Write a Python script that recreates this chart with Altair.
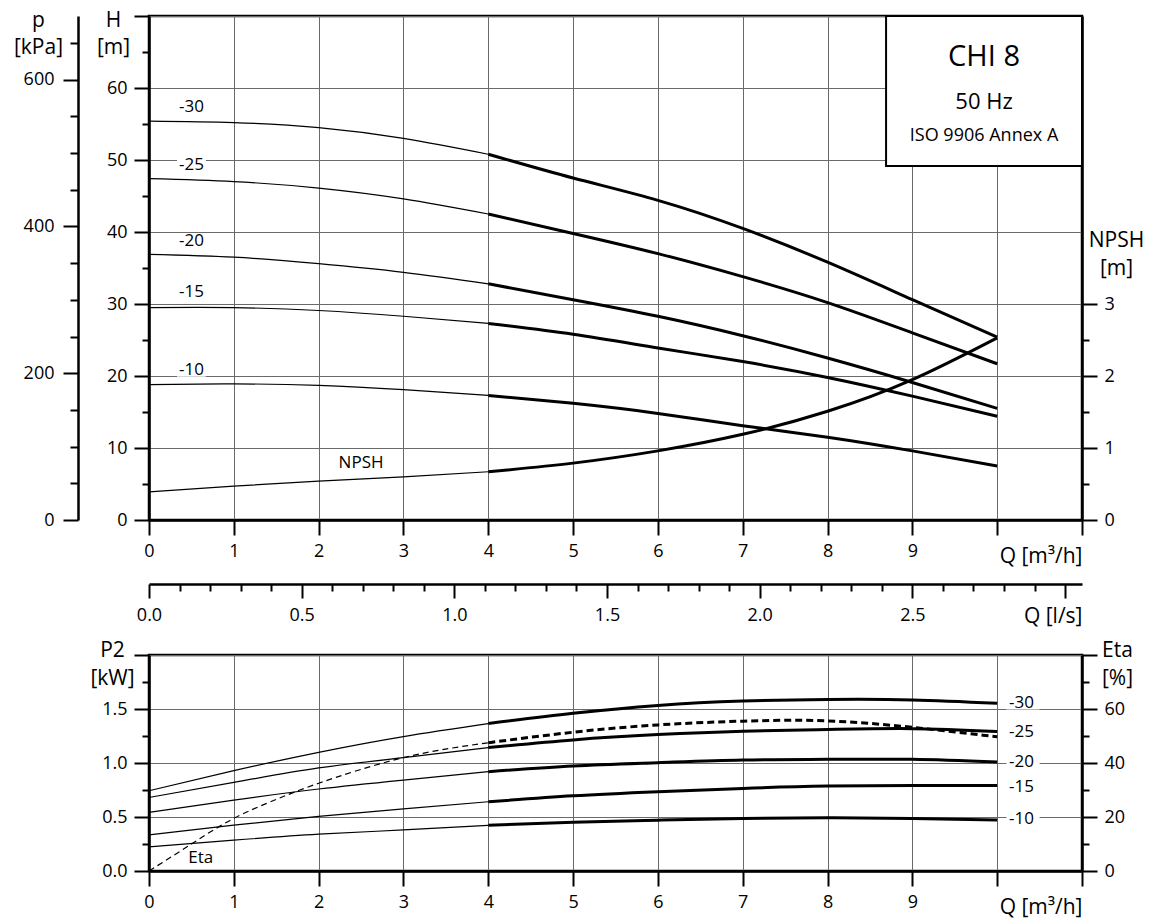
import altair as alt
import pandas as pd

# ---------------- data ----------------
Q = [0, 1, 2, 3, 4, 5, 6, 7, 8, 9, 10]                 # flow, m3/h
STAGES = ["-30", "-25", "-20", "-15", "-10"]

H_30 = [55.4, 55.2, 54.5, 53.0, 50.8, 47.5, 44.4, 40.5, 35.8, 30.6, 25.4]
H_25 = [47.4, 47.0, 46.1, 44.6, 42.5, 39.8, 37.0, 33.8, 30.2, 26.0, 21.7]
H_20 = [36.9, 36.5, 35.6, 34.4, 32.8, 30.6, 28.3, 25.6, 22.5, 19.1, 15.5]
H_15 = [29.5, 29.5, 29.1, 28.3, 27.3, 25.8, 23.9, 22.0, 19.8, 17.2, 14.4]
H_10 = [18.8, 18.9, 18.7, 18.1, 17.3, 16.2, 14.8, 13.1, 11.5, 9.6, 7.5]
NPSH = [0.39, 0.47, 0.54, 0.60, 0.67, 0.79, 0.96, 1.19, 1.51, 1.95, 2.53]

P2_30 = [0.743, 0.929, 1.099, 1.245, 1.365, 1.460, 1.533, 1.573, 1.588, 1.584, 1.553]
P2_25 = [0.681, 0.820, 0.954, 1.050, 1.143, 1.214, 1.263, 1.294, 1.310, 1.318, 1.292]
P2_20 = [0.542, 0.656, 0.759, 0.842, 0.920, 0.972, 1.003, 1.028, 1.034, 1.034, 1.009]
P2_15 = [0.334, 0.424, 0.505, 0.576, 0.641, 0.696, 0.734, 0.765, 0.786, 0.792, 0.792]
P2_10 = [0.223, 0.285, 0.341, 0.380, 0.423, 0.452, 0.471, 0.486, 0.492, 0.487, 0.472]

ETA_Q = [0, 0.5, 1, 1.5, 2, 3, 4, 5, 6, 7, 8, 9, 10]
ETA = [0, 10.0, 19.5, 26.5, 32.5, 42.0, 47.5, 51.4, 54.1, 55.5, 55.6, 53.2, 49.7]

# curve-label anchors
H_LABEL_Q = [0.5, 0.5, 0.5, 0.5, 0.5]
H_LABEL_H = [57.3, 49.3, 38.8, 31.7, 20.8]
P2_LABEL_Q = [10.14, 10.14, 10.14, 10.14, 10.14]
P2_LABEL_P = [1.555, 1.283, 1.005, 0.782, 0.48]

# axis tick values
Q_TICKS = [i * 0.5 for i in range(23)]
H_TICKS = list(range(0, 75, 5))
NPSH_TICKS = [0, 0.5, 1, 1.5, 2, 2.5, 3]
P_TICKS = list(range(0, 700, 50))
LS_TICKS = [i / 10 for i in range(31)]
P2_TICKS = [i * 0.25 for i in range(9)]
ETA_TICKS = list(range(0, 90, 10))

BOX_TEXT = ["CHI 8", "50 Hz", "ISO 9906 Annex A"]

FONT = "Open Sans"
BLACK = "black"
INTERP = "natural"


def cond(test, a, b):
    return {"condition": {"test": test, "value": a}, "value": b}


def long(values, qs, name):
    rows = []
    for st, vals in zip(STAGES, values):
        for q, v in zip(qs, vals):
            rows.append({"stage": st, "Q": q, name: v})
    return pd.DataFrame(rows)


# ---------------- scales / axes ----------------
xs = alt.Scale(domain=[0, 11], nice=False, zero=False)
hs = alt.Scale(domain=[0, 70], nice=False)
ns = alt.Scale(domain=[0, 7], nice=False)
ps = alt.Scale(domain=[0, 70 * 9.81], nice=False)
lss = alt.Scale(domain=[0, 11 / 3.6], nice=False)
p2s = alt.Scale(domain=[0, 2], nice=False)
es = alt.Scale(domain=[0, 80], nice=False)


def q_axis():
    return alt.Axis(
        values=Q_TICKS, format="d",
        labelExpr="(datum.value % 1 == 0 && datum.value <= 9) ? datum.label : ''",
        tickSize=cond("datum.value % 1 == 0", 15, 7),
        grid=True, gridOpacity=cond("datum.value % 1 == 0", 1, 0),
        labelPadding=7, labelFlush=False, labelOverlap=False,
        title="Q [m³/h]", titleX=933, titleY=36, titleAlign="right",
        titleBaseline="middle", titleAngle=0,
    )


HAX = alt.Axis(
    values=H_TICKS, format="d",
    labelExpr="(datum.value % 10 == 0 && datum.value < 70) ? datum.label : ''",
    tickSize=cond("datum.value % 10 == 0", 15, 7),
    grid=True, gridOpacity=cond("datum.value % 10 == 0", 1, 0),
    labelPadding=7, labelOverlap=False, labelFlush=False,
    title=["H", "[m]"], titleX=-36, titleY=10, titleAngle=0, titleAlign="center",
    titleBaseline="alphabetic", titleLineHeight=27,
)
QAX = q_axis()

NAX = alt.Axis(
    orient="right", values=NPSH_TICKS, format="d",
    labelExpr="datum.value % 1 == 0 ? datum.label : ''",
    tickSize=cond("datum.value % 1 == 0", 15, 7),
    grid=False, labelPadding=7, labelOverlap=False, labelFlush=False,
    title=["NPSH", "[m]"], titleX=34, titleY=230, titleAngle=0, titleAlign="center",
    titleBaseline="alphabetic", titleLineHeight=28, titleFontSize=21,
)

PAX = alt.Axis(
    orient="left", offset=71, values=P_TICKS, format="d",
    labelExpr="datum.value % 200 == 0 ? datum.label : ''",
    tickSize=cond("datum.value % 200 == 0", 15, 8),
    grid=False, labelPadding=9, labelOverlap=False, labelFlush=False,
    title=["p", "[kPa]"], titleX=-40, titleY=10, titleAngle=0, titleAlign="center",
    titleBaseline="alphabetic", titleLineHeight=27,
)

LSAX = alt.Axis(
    orient="bottom", offset=64, values=LS_TICKS, format=".1f",
    labelExpr="(round(datum.value * 10) % 5 == 0 && datum.value < 2.9) ? datum.label : ''",
    tickSize=cond("round(datum.value * 10) % 5 == 0", 14, 7),
    grid=False, labelPadding=8, labelOverlap=False, labelFlush=False,
    title="Q [l/s]", titleX=933, titleY=32, titleAlign="right",
    titleBaseline="middle", titleAngle=0,
)

P2AX = alt.Axis(
    values=P2_TICKS, format=".1f",
    labelExpr="(datum.value * 4 % 2 == 0 && datum.value < 1.9) ? datum.label : ''",
    tickSize=cond("datum.value * 4 % 2 == 0", 15, 7),
    grid=True, gridOpacity=cond("datum.value * 4 % 2 == 0", 1, 0),
    labelPadding=7, labelOverlap=False, labelFlush=False,
    title=["P2", "[kW]"], titleX=-37, titleY=1, titleAngle=0, titleAlign="center",
    titleBaseline="alphabetic", titleLineHeight=28,
)
QAX2 = q_axis()

EAX = alt.Axis(
    orient="right", values=ETA_TICKS, format="d",
    labelExpr="(datum.value % 20 == 0 && datum.value < 80) ? datum.label : ''",
    tickSize=cond("datum.value % 20 == 0", 15, 7),
    grid=False, labelPadding=7, labelOverlap=False, labelFlush=False,
    title=["Eta", "[%]"], titleX=35, titleY=1, titleAngle=0, titleAlign="center",
    titleBaseline="alphabetic", titleLineHeight=28,
)

# ---------------- top panel ----------------
h_df = long([H_30, H_25, H_20, H_15, H_10], Q, "V")
hx = alt.X("Q:Q", scale=xs, axis=QAX)
hy = alt.Y("V:Q", scale=hs, axis=HAX)

h_thin = alt.Chart(h_df[h_df.Q <= 4]).mark_line(
    color=BLACK, strokeWidth=1.2, interpolate=INTERP
).encode(x=hx, y=hy, detail="stage:N")
h_thick = alt.Chart(h_df[h_df.Q >= 4]).mark_line(
    color=BLACK, strokeWidth=3, interpolate=INTERP
).encode(x=hx, y=hy, detail="stage:N")

h_lab = pd.DataFrame({"stage": STAGES, "Q": H_LABEL_Q, "V": H_LABEL_H})
h_lab_bg = alt.Chart(h_lab).transform_calculate(
    x1="datum.Q - 0.17", x2="datum.Q + 0.17", y1="datum.V - 0.9", y2="datum.V + 0.9"
).mark_rect(fill="white").encode(
    x=alt.X("x1:Q", scale=xs, axis=QAX), x2="x2:Q",
    y=alt.Y("y1:Q", scale=hs, axis=HAX), y2="y2:Q",
)
h_lab_txt = alt.Chart(h_lab).mark_text(
    font=FONT, fontSize=17, color=BLACK, baseline="middle", align="center"
).encode(x=hx, y=hy, text="stage:N")

box_df = pd.DataFrame({"x1": [8.69], "x2": [11.0], "y1": [49.15], "y2": [70.0]})
box = alt.Chart(box_df).mark_rect(fill="white", stroke=BLACK, strokeWidth=2).encode(
    x=alt.X("x1:Q", scale=xs, axis=QAX), x2="x2:Q",
    y=alt.Y("y1:Q", scale=hs, axis=HAX), y2="y2:Q",
)
box_txt_df = pd.DataFrame({
    "t": BOX_TEXT, "Q": [9.845, 9.845, 9.845], "V": [64.3, 58.1, 53.4], "fs": [29, 22, 18]
})
box_txt = alt.Chart(box_txt_df).mark_text(
    font=FONT, color=BLACK, baseline="middle", align="center"
).encode(x=hx, y=hy, text="t:N", size=alt.Size("fs:Q", scale=None))

top_h = alt.layer(h_thin, h_thick, h_lab_bg, h_lab_txt, box, box_txt)

n_df = pd.DataFrame({"Q": Q, "N": NPSH})
nx = alt.X("Q:Q", scale=xs, axis=None)
ny = alt.Y("N:Q", scale=ns, axis=NAX)
n_thin = alt.Chart(n_df[n_df.Q <= 4]).mark_line(
    color=BLACK, strokeWidth=1.2, interpolate=INTERP).encode(x=nx, y=ny)
n_thick = alt.Chart(n_df[n_df.Q >= 4]).mark_line(
    color=BLACK, strokeWidth=3, interpolate=INTERP).encode(x=nx, y=ny)
n_lab = alt.Chart(pd.DataFrame({"Q": [2.5], "N": [0.79], "t": ["NPSH"]})).mark_text(
    font=FONT, fontSize=17, color=BLACK, baseline="middle", align="center"
).encode(x=nx, y=ny, text="t:N")
npsh_layer = alt.layer(n_thin, n_thick, n_lab)

p_layer = alt.Chart(pd.DataFrame({"p": P_TICKS})).mark_point(opacity=0).encode(
    y=alt.Y("p:Q", scale=ps, axis=PAX)
)
ls_layer = alt.Chart(pd.DataFrame({"ls": LS_TICKS})).mark_point(opacity=0).encode(
    x=alt.X("ls:Q", scale=lss, axis=LSAX)
)

top = alt.layer(top_h, npsh_layer, p_layer, ls_layer).resolve_scale(
    x="independent", y="independent"
).properties(width=933, height=504)

# ---------------- bottom panel ----------------
p_df = long([P2_30, P2_25, P2_20, P2_15, P2_10], Q, "P")
px = alt.X("Q:Q", scale=xs, axis=QAX2)
py = alt.Y("P:Q", scale=p2s, axis=P2AX)
p_thin = alt.Chart(p_df[p_df.Q <= 4]).mark_line(
    color=BLACK, strokeWidth=1.2, interpolate=INTERP
).encode(x=px, y=py, detail="stage:N")
p_thick = alt.Chart(p_df[p_df.Q >= 4]).mark_line(
    color=BLACK, strokeWidth=3, interpolate=INTERP
).encode(x=px, y=py, detail="stage:N")

p_lab = pd.DataFrame({"stage": STAGES, "Q": P2_LABEL_Q, "P": P2_LABEL_P})
p_lab_bg = alt.Chart(p_lab).transform_calculate(
    x1="datum.Q - 0.03", x2="datum.Q + 0.36", y1="datum.P - 0.06", y2="datum.P + 0.06"
).mark_rect(fill="white").encode(
    x=alt.X("x1:Q", scale=xs, axis=QAX2), x2="x2:Q",
    y=alt.Y("y1:Q", scale=p2s, axis=P2AX), y2="y2:Q",
)
p_lab_txt = alt.Chart(p_lab).mark_text(
    font=FONT, fontSize=17, color=BLACK, baseline="middle", align="left"
).encode(x=px, y=py, text="stage:N")
bottom_p = alt.layer(p_thin, p_thick, p_lab_bg, p_lab_txt)

e_df = pd.DataFrame({"Q": ETA_Q, "E": ETA})
ex = alt.X("Q:Q", scale=xs, axis=None)
ey = alt.Y("E:Q", scale=es, axis=EAX)
e_thin = alt.Chart(e_df[e_df.Q <= 4]).mark_line(
    color=BLACK, strokeWidth=1.2, strokeDash=[6, 4], interpolate=INTERP
).encode(x=ex, y=ey)
e_thick = alt.Chart(e_df[e_df.Q >= 4]).mark_line(
    color=BLACK, strokeWidth=3, strokeDash=[7, 4], interpolate=INTERP
).encode(x=ex, y=ey)
e_lab = alt.Chart(pd.DataFrame({"Q": [0.61], "E": [4.75], "t": ["Eta"]})).mark_text(
    font=FONT, fontSize=17, color=BLACK, baseline="middle", align="center"
).encode(x=ex, y=ey, text="t:N")
eta_layer = alt.layer(e_thin, e_thick, e_lab)

bottom = alt.layer(bottom_p, eta_layer).resolve_scale(
    x="independent", y="independent"
).properties(width=933, height=216)

chart = alt.vconcat(top, bottom, spacing=135, bounds="flush").properties(
    padding={"left": 4, "top": -3, "right": 0, "bottom": 2}
).configure_view(
    stroke=BLACK, strokeWidth=2.5
).configure_axis(
    domainColor=BLACK, domainWidth=2.5, tickColor=BLACK, tickWidth=2,
    labelFont=FONT, labelFontSize=18, labelColor=BLACK,
    titleFont=FONT, titleFontSize=21, titleFontWeight="normal", titleColor=BLACK,
    gridColor="#6a6a6a", gridWidth=1,
)

chart.save("out.html", embed_options={"renderer": "svg", "actions": False})
